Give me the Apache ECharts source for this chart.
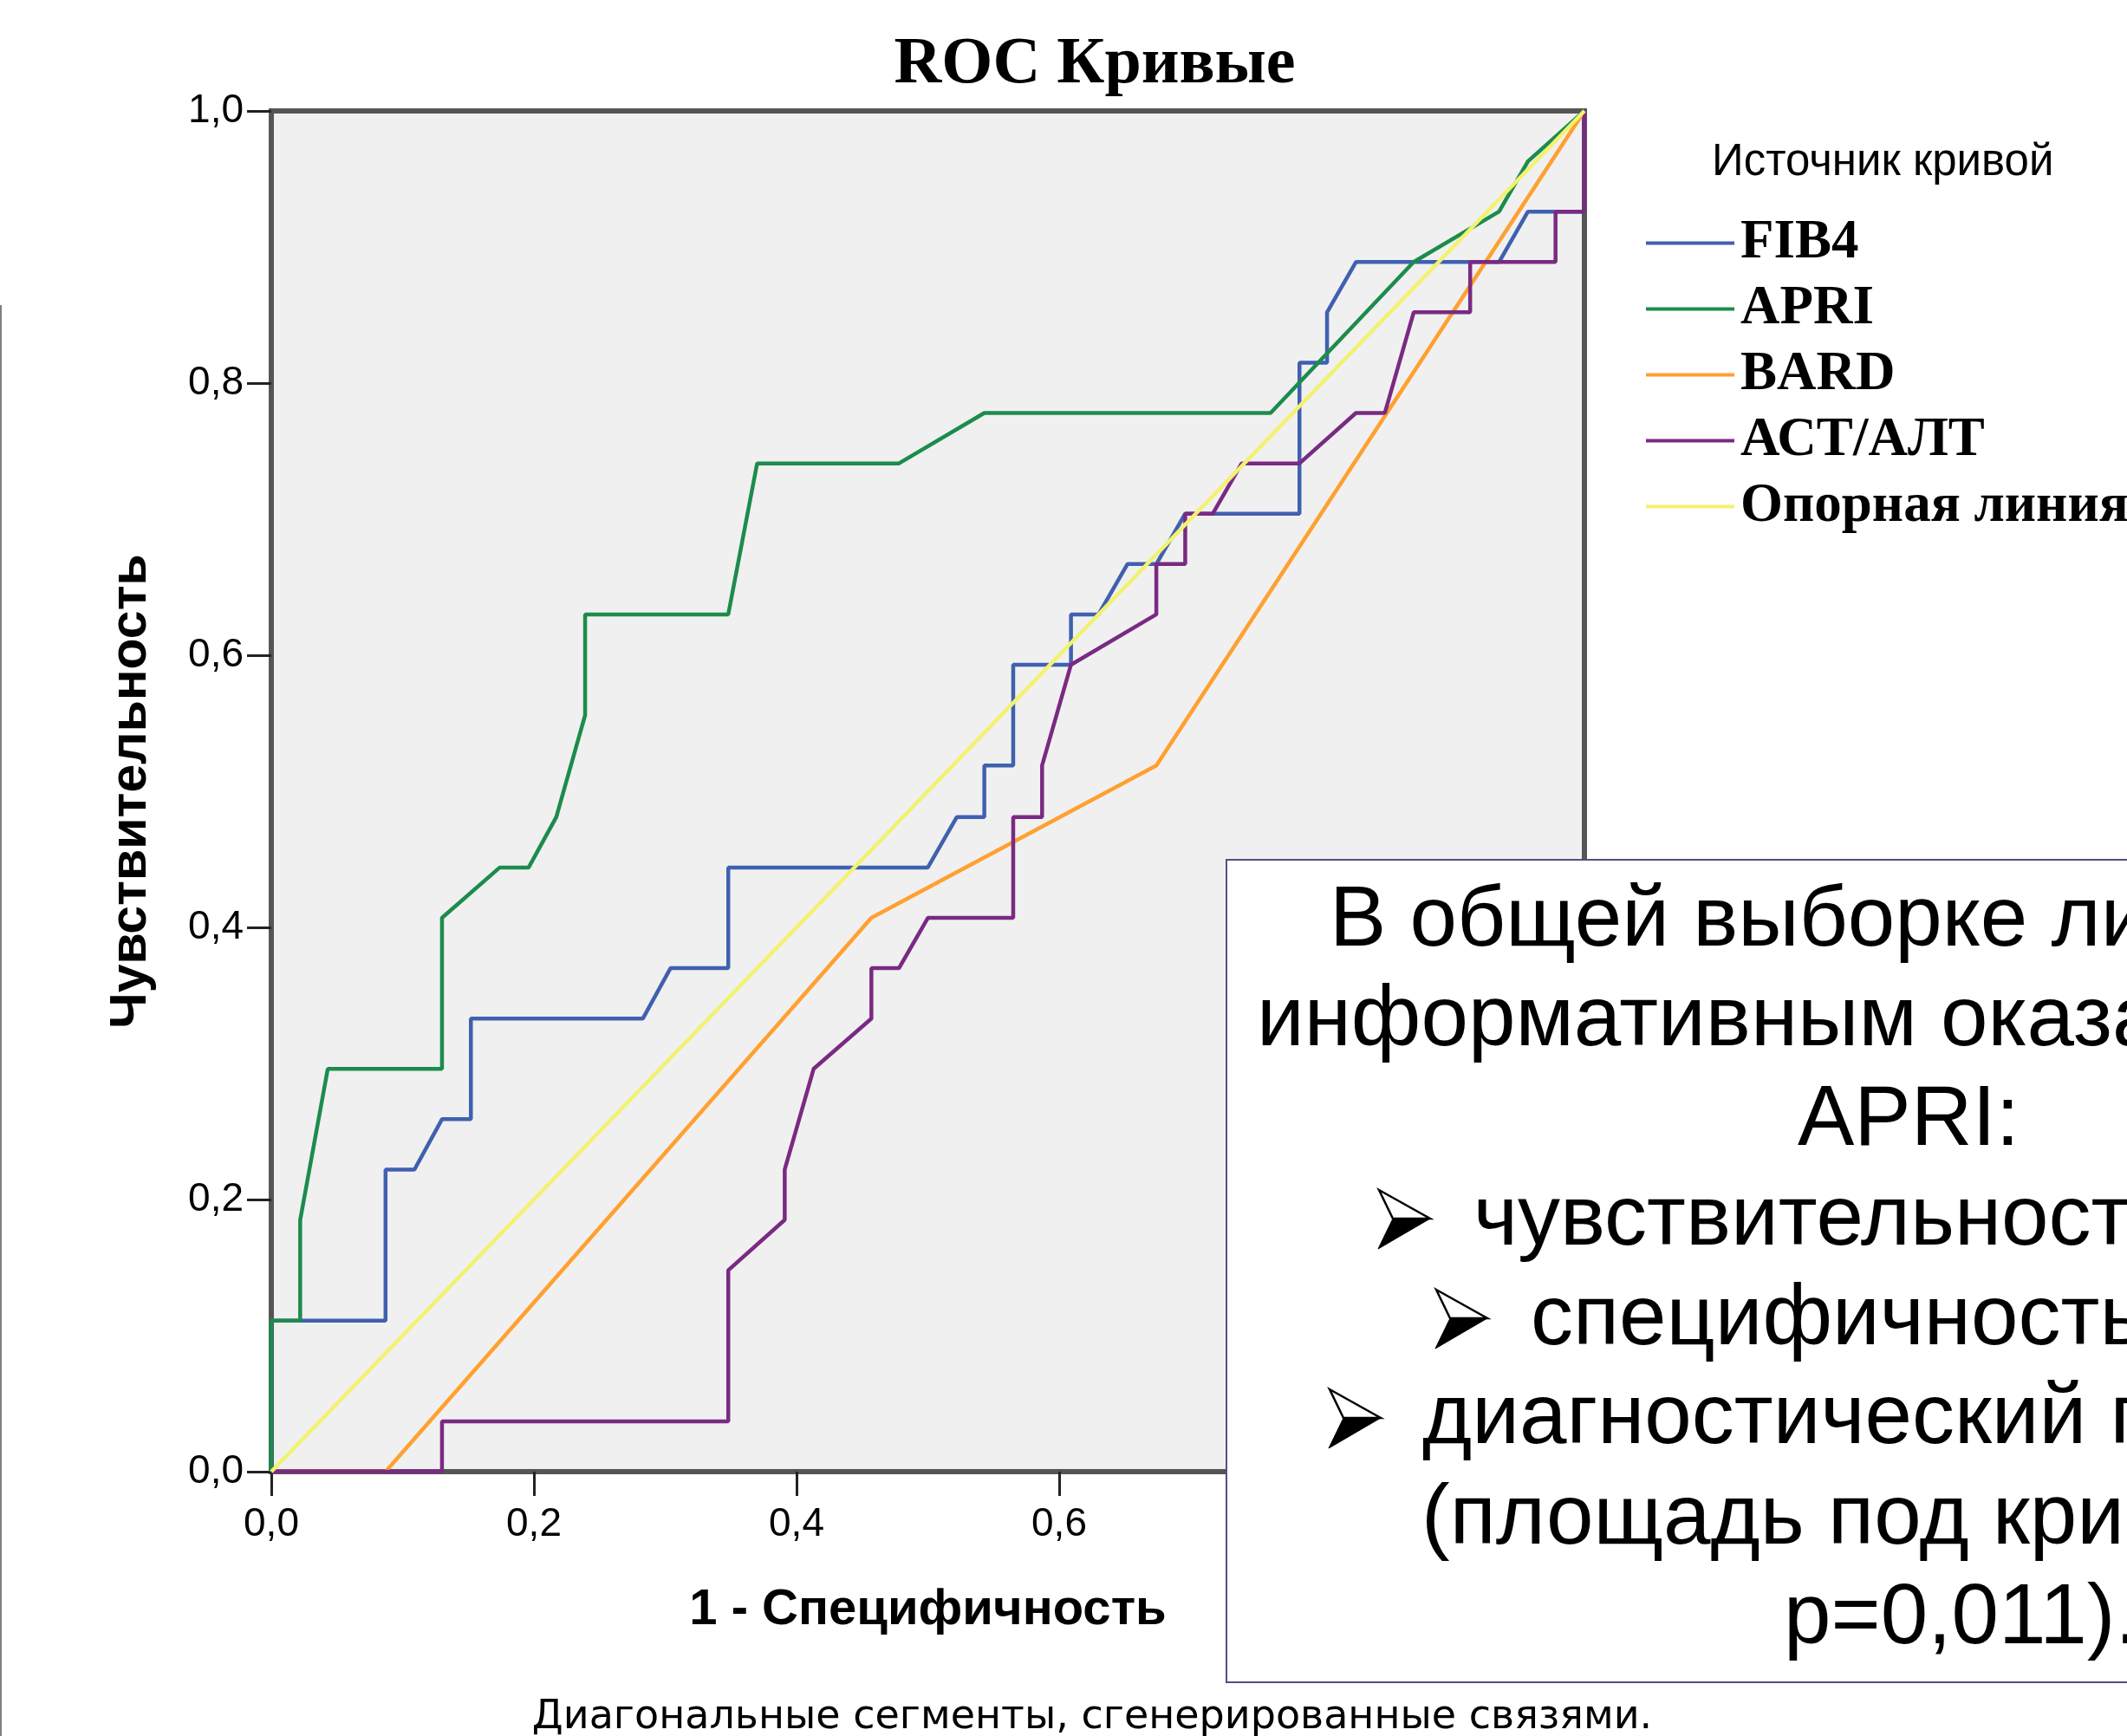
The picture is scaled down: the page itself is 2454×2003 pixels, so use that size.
<!DOCTYPE html>
<html><head><meta charset="utf-8">
<script src="https://cdn.jsdelivr.net/npm/echarts@6/dist/echarts.min.js"></script>
<style>html,body{margin:0;padding:0;background:#fff}#c{width:2454px;height:2003px}</style>
</head><body><div id="c"></div>
<script>
// ---- data (1 - specificity, sensitivity) ----
const seriesNames = ['FIB4', 'APRI', 'BARD', 'АСТ/АЛТ', 'Опорная линия'];
const fib4 = [[0,0],[0,0.111],[0.087,0.111],[0.087,0.222],[0.109,0.222],[0.130,0.259],[0.152,0.259],[0.152,0.333],[0.283,0.333],[0.304,0.370],[0.348,0.370],[0.348,0.444],[0.500,0.444],[0.522,0.481],[0.543,0.481],[0.543,0.519],[0.565,0.519],[0.565,0.593],[0.609,0.593],[0.609,0.630],[0.630,0.630],[0.652,0.667],[0.674,0.667],[0.696,0.704],[0.783,0.704],[0.783,0.815],[0.804,0.815],[0.804,0.852],[0.826,0.889],[0.935,0.889],[0.957,0.926],[1,0.926],[1,1]];
const apri = [[0,0],[0,0.111],[0.022,0.111],[0.022,0.185],[0.043,0.296],[0.130,0.296],[0.130,0.407],[0.174,0.444],[0.196,0.444],[0.217,0.481],[0.239,0.556],[0.239,0.630],[0.348,0.630],[0.370,0.741],[0.478,0.741],[0.543,0.778],[0.761,0.778],[0.870,0.889],[0.935,0.926],[0.957,0.963],[1,1]];
const bard = [[0,0],[0.087,0],[0.457,0.407],[0.674,0.519],[1,1]];
const astAlt = [[0,0],[0.130,0],[0.130,0.037],[0.348,0.037],[0.348,0.148],[0.391,0.185],[0.391,0.222],[0.413,0.296],[0.457,0.333],[0.457,0.370],[0.478,0.370],[0.500,0.407],[0.565,0.407],[0.565,0.481],[0.587,0.481],[0.587,0.519],[0.609,0.593],[0.674,0.630],[0.674,0.667],[0.696,0.667],[0.696,0.704],[0.717,0.704],[0.739,0.741],[0.783,0.741],[0.826,0.778],[0.848,0.778],[0.870,0.852],[0.913,0.852],[0.913,0.889],[0.978,0.889],[0.978,0.926],[1,0.926],[1,1]];
const refLine = [[0,0],[1,1]];
const axisRange = [0, 1];
const tickStep = 0.2;
const seriesColors = ['#4060b0', '#1c8c4c', '#ffa030', '#7a2a82', '#f3f270'];

const titleText = 'ROC Кривые';
const yName = 'Чувствительность';
const xName = '1 - Специфичность';
const legendTitle = 'Источник кривой';
const footnote = 'Диагональные сегменты, сгенерированные связями.';
const boxLines = ['В общей выборке лиц', 'информативным оказался', 'APRI:', 'чувствительность', 'специфичность', 'диагностический показатель', '(площадь под кривой', 'p=0,011).'];

// ---- chart ----
const chart = echarts.init(document.getElementById('c'), null, {renderer: 'canvas'});
const dataSets = [fib4, apri, bard, astAlt, refLine];

const fmt = v => v.toFixed(1).replace('.', ',');

// text box layout
const boxX = [1534, 1450, 2074, 1700, 1766, 1641, 1640, 2058];
const boxBase = [1096, 1211, 1326, 1441, 1556, 1670, 1786, 1901];
const arrows = [[1590, 1373], [1656, 1488], [1533, 1603]];
const boxFont = 98;

const graphics = [
  {type: 'line', shape: {x1: 1, y1: 352, x2: 1, y2: 2003}, style: {stroke: '#808080', lineWidth: 2}, z: 10},
  {type: 'text', left: 1975, top: 162, style: {text: legendTitle, font: '51px "Liberation Sans"', fill: '#000'}, z: 10},
  {type: 'text', x: 1260, y: 1982, style: {text: footnote, font: '46px "DejaVu Sans"', fill: '#000', textAlign: 'center', textVerticalAlign: 'middle'}, z: 10},
  {type: 'rect', shape: {x: 1415, y: 992, width: 1200, height: 949}, style: {fill: '#fff', stroke: '#5b4c7a', lineWidth: 2}, z: 20}
];
boxLines.forEach((t, i) => {
  graphics.push({type: 'text', x: boxX[i], y: boxBase[i] - 0.33 * boxFont, z: 21,
    style: {text: t, font: boxFont + 'px "Liberation Sans"', fill: '#000', textAlign: 'left', textVerticalAlign: 'middle'}});
});
arrows.forEach(([x0, y0]) => {
  graphics.push({type: 'polygon', z: 22, shape: {points: [[x0 + 1, y0], [x0 + 60, y0 + 33], [x0 + 17, y0 + 33]]}, style: {fill: '#fff', stroke: '#000', lineWidth: 2.5}});
  graphics.push({type: 'polygon', z: 22, shape: {points: [[x0 + 17, y0 + 33], [x0 + 60, y0 + 33], [x0, y0 + 68]]}, style: {fill: '#000', stroke: '#000', lineWidth: 1}});
});

const option = {
  backgroundColor: '#fff',
  animation: false,
  title: {
    text: titleText, left: 1258, top: 32, textAlign: 'center',
    textStyle: {fontFamily: 'Liberation Serif', fontWeight: 'bold', fontSize: 76, color: '#000'}
  },
  legend: {
    orient: 'vertical', left: 1894, top: 244, icon: 'rect', itemWidth: 102, itemHeight: 4, itemGap: 13,
    data: seriesNames,
    textStyle: {fontFamily: 'Liberation Serif', fontWeight: 'bold', fontSize: 63, color: '#000', padding: [0, 0, 0, 2]}
  },
  grid: {
    left: 313, top: 128, width: 1515, height: 1570, show: true,
    backgroundColor: '#f0f0f0', borderColor: '#555', borderWidth: 6
  },
  xAxis: {
    type: 'value', min: axisRange[0], max: axisRange[1], interval: tickStep,
    name: xName, nameLocation: 'middle', nameGap: 131,
    nameTextStyle: {fontFamily: 'Liberation Sans', fontWeight: 'bold', fontSize: 58, color: '#000'},
    axisLine: {show: false}, splitLine: {show: false},
    axisTick: {show: true, length: 28, lineStyle: {color: '#222', width: 3}},
    axisLabel: {formatter: fmt, margin: 38, fontFamily: 'Liberation Sans', fontSize: 46, color: '#000'}
  },
  yAxis: {
    type: 'value', min: axisRange[0], max: axisRange[1], interval: tickStep,
    name: yName, nameLocation: 'middle', nameGap: 132,
    nameTextStyle: {fontFamily: 'Liberation Sans', fontWeight: 'bold', fontSize: 59, color: '#000'},
    axisLine: {show: false}, splitLine: {show: false},
    axisTick: {show: true, length: 28, lineStyle: {color: '#222', width: 3}},
    axisLabel: {formatter: fmt, margin: 32, fontFamily: 'Liberation Sans', fontSize: 46, color: '#000', padding: [8, 0, 0, 0]}
  },
  series: seriesNames.map((n, i) => ({
    name: n, type: 'line', data: dataSets[i], symbol: 'none', showSymbol: false,
    lineStyle: {width: 4.5, color: seriesColors[i]}, itemStyle: {color: seriesColors[i]},
    z: 2 + i
  })),
  graphic: graphics
};
chart.setOption(option);
</script></body></html>
